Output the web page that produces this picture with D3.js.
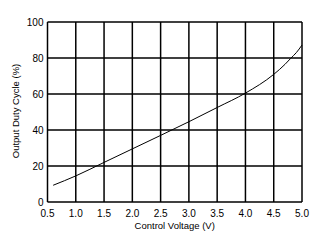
<!DOCTYPE html>
<html>
<head>
<meta charset="utf-8">
<script src="https://cdn.jsdelivr.net/npm/d3@7"></script>
<style>
  body { margin: 0; background: #fff; }
  text { font-family: "Liberation Sans", Arial, sans-serif; fill: #000; }
</style>
</head>
<body>
<svg id="chart"></svg>
<script>
const voltage = [0.6, 1.0, 1.5, 2.0, 2.5, 3.0, 3.5, 4.0, 4.5, 4.7, 4.8, 4.9, 5.0];
const dutyCycle = [9.3, 14.5, 22, 29.5, 37, 44.6, 52.5, 60.5, 70.9, 76.5, 79.8, 83, 87.2];
const xTicks = [0.5, 1.0, 1.5, 2.0, 2.5, 3.0, 3.5, 4.0, 4.5, 5.0];
const yTicks = [0, 20, 40, 60, 80, 100];

const w = 323;
const h = 243;
const m = { top: 22, right: 21, bottom: 41, left: 47.5 };

const svg = d3.select("#chart").attr("width", w).attr("height", h);

const x = d3.scaleLinear().domain([0.5, 5.0]).range([m.left, w - m.right]);
const y = d3.scaleLinear().domain([0, 100]).range([h - m.bottom, m.top]);

// grid
svg.append("g")
  .selectAll("line")
  .data(xTicks)
  .enter()
  .append("line")
  .attr("x1", (d) => x(d))
  .attr("x2", (d) => x(d))
  .attr("y1", y(0))
  .attr("y2", y(100))
  .attr("stroke", "#000")
  .attr("stroke-width", 1.5);

svg.append("g")
  .selectAll("line")
  .data(yTicks)
  .enter()
  .append("line")
  .attr("x1", x(0.5))
  .attr("x2", x(5.0))
  .attr("y1", (d) => y(d))
  .attr("y2", (d) => y(d))
  .attr("stroke", "#000")
  .attr("stroke-width", 1.5);

// tick labels
svg.append("g")
  .selectAll("text")
  .data(xTicks)
  .enter()
  .append("text")
  .attr("x", (d) => x(d))
  .attr("y", y(0) + 15)
  .attr("text-anchor", "middle")
  .style("font-size", "10px")
  .text((d) => d.toFixed(1));

svg.append("g")
  .selectAll("text")
  .data(yTicks)
  .enter()
  .append("text")
  .attr("x", x(0.5) - 4)
  .attr("y", (d) => y(d) + 3.5)
  .attr("text-anchor", "end")
  .style("font-size", "10px")
  .text((d) => d);

// axis titles
svg.append("text")
  .attr("x", (x(0.5) + x(5.0)) / 2)
  .attr("y", 229)
  .attr("text-anchor", "middle")
  .style("font-size", "9.5px")
  .text("Control Voltage (V)");

svg.append("text")
  .attr("transform", "translate(19," + 111 + ") rotate(-90)")
  .attr("text-anchor", "middle")
  .style("font-size", "9.5px")
  .text("Output Duty Cycle (%)");

// curve
const line = d3.line()
  .x((d, i) => x(voltage[i]))
  .y((d) => y(d))
  .curve(d3.curveMonotoneX);

svg.append("path")
  .datum(dutyCycle)
  .attr("fill", "none")
  .attr("stroke", "#000")
  .attr("stroke-width", 1)
  .attr("d", line);
</script>
</body>
</html>
